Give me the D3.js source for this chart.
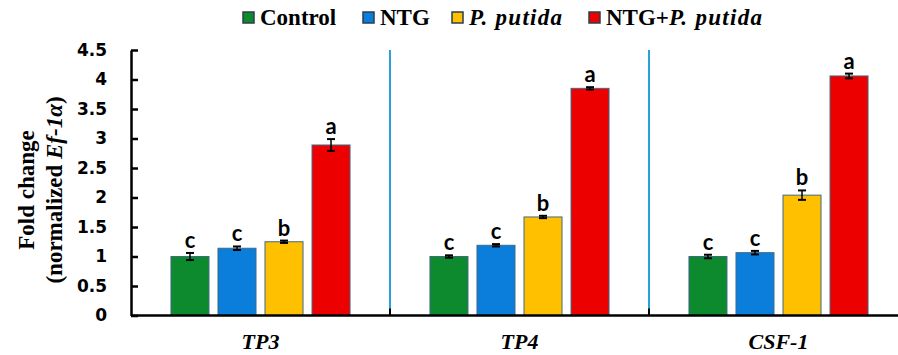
<!DOCTYPE html>
<html>
<head>
<meta charset="utf-8">
<script src="https://cdn.jsdelivr.net/npm/d3@7"></script>
<style>
body { margin: 0; background: #fff; }
svg { display: block; }
</style>
</head>
<body>
<script>
var genes = ["TP3", "TP4", "CSF-1"];
var groups = ["Control", "NTG", "P. putida", "NTG+P. putida"];
var means = {
	"TP3": [1.0, 1.14, 1.25, 2.89],
	"TP4": [1.0, 1.19, 1.67, 3.85],
	"CSF-1": [1.0, 1.065, 2.04, 4.06]
};
var errs = {
	"TP3": [0.06, 0.03, 0.02, 0.10],
	"TP4": [0.02, 0.02, 0.02, 0.02],
	"CSF-1": [0.03, 0.03, 0.08, 0.04]
};
var letters = {
	"TP3": ["c", "c", "b", "a"],
	"TP4": ["c", "c", "b", "a"],
	"CSF-1": ["c", "c", "b", "a"]
};
var yTicks = [0, 0.5, 1, 1.5, 2, 2.5, 3, 3.5, 4, 4.5];
var colors = ["#0E8A2E", "#0A7EDA", "#FFC000", "#EC0000"];

var W = 898, H = 355;
var left = 131, groupW = 259, y0 = 315.5, yTop = 50;

var svg = d3.select("body").append("svg")
	.attr("width", W).attr("height", H);

var x = d3.scaleBand().domain(genes).range([left, left + groupW * genes.length]);
var xIn = d3.scaleBand().domain(groups).range([0, groupW])
	.paddingInner(9 / 47).paddingOuter(0.85);
var y = d3.scaleLinear().domain([0, 4.5]).range([y0, yTop]);
var color = d3.scaleOrdinal().domain(groups).range(colors);

// separators between genes
svg.selectAll("line.sep")
	.data(genes.slice(1))
	.enter().append("line")
	.attr("class", "sep")
	.attr("x1", function(d) { return x(d); })
	.attr("x2", function(d) { return x(d); })
	.attr("y1", y(4.5))
	.attr("y2", y0)
	.attr("stroke", "#27A2DB")
	.attr("stroke-width", 2);

// bars
var rows = [];
genes.forEach(function(g) {
	groups.forEach(function(s, i) {
		rows.push({gene: g, group: s, v: means[g][i], e: errs[g][i], l: letters[g][i]});
	});
});

var bar = svg.append("g").selectAll("g")
	.data(rows).enter().append("g")
	.attr("transform", function(d) { return "translate(" + (x(d.gene) + xIn(d.group)) + ",0)"; });

bar.append("rect")
	.attr("x", 0)
	.attr("y", function(d) { return y(d.v); })
	.attr("width", xIn.bandwidth())
	.attr("height", function(d) { return y0 - y(d.v); })
	.attr("fill", function(d) { return color(d.group); })
	.attr("stroke", "#3F6A86")
	.attr("stroke-width", 1);

var bw = xIn.bandwidth();
bar.append("line")
	.attr("x1", bw / 2).attr("x2", bw / 2)
	.attr("y1", function(d) { return y(d.v + d.e); })
	.attr("y2", function(d) { return y(d.v - d.e); })
	.attr("stroke", "#000").attr("stroke-width", 1.5);
bar.selectAll("line.cap")
	.data(function(d) { return [d.v + d.e, d.v - d.e]; })
	.enter().append("line")
	.attr("class", "cap")
	.attr("x1", bw / 2 - 4).attr("x2", bw / 2 + 4)
	.attr("y1", function(v) { return y(v); })
	.attr("y2", function(v) { return y(v); })
	.attr("stroke", "#000").attr("stroke-width", 2);

bar.append("text")
	.attr("x", bw / 2)
	.attr("y", function(d) { return y(d.v + d.e) - 5; })
	.attr("text-anchor", "middle")
	.attr("font-family", "Lato, 'Open Sans', sans-serif")
	.attr("font-weight", "bold")
	.attr("font-size", "22px")
	.text(function(d) { return d.l; });

// y axis
var yAxis = d3.axisLeft(y).tickValues(yTicks).tickSize(-7).tickSizeOuter(0)
	.tickPadding(24)
	.tickFormat(function(d) { return d; });
var gy = svg.append("g").attr("transform", "translate(" + left + ",0)").call(yAxis);
gy.select(".domain").attr("stroke", "#000").attr("stroke-width", 2.5);
gy.selectAll(".tick line").attr("stroke", "#000").attr("stroke-width", 2.5);
gy.selectAll(".tick text")
	.attr("font-family", "'DejaVu Sans', sans-serif")
	.attr("font-weight", "bold")
	.attr("font-size", "17px")
	.attr("fill", "#000");

// x axis
svg.append("line")
	.attr("x1", left).attr("x2", W)
	.attr("y1", y0).attr("y2", y0)
	.attr("stroke", "#000").attr("stroke-width", 2.5);
svg.selectAll("line.xt")
	.data(genes.slice(1))
	.enter().append("line")
	.attr("class", "xt")
	.attr("x1", function(d) { return x(d); })
	.attr("x2", function(d) { return x(d); })
	.attr("y1", y0 - 7).attr("y2", y0)
	.attr("stroke", "#000").attr("stroke-width", 2);

svg.selectAll("text.cat")
	.data(genes).enter().append("text")
	.attr("class", "cat")
	.attr("x", function(d) { return x(d) + x.bandwidth() / 2; })
	.attr("y", 349)
	.attr("text-anchor", "middle")
	.attr("font-family", "'Liberation Serif', 'Times New Roman', serif")
	.attr("font-weight", "bold")
	.attr("font-style", "italic")
	.attr("font-size", "22px")
	.text(function(d) { return d; });

// y title
var yt = svg.append("text")
	.attr("transform", "translate(34,190) rotate(-90)")
	.attr("text-anchor", "middle")
	.attr("font-family", "'Liberation Serif', 'Times New Roman', serif")
	.attr("font-weight", "bold")
	.attr("font-size", "23px");
yt.append("tspan").attr("x", 0).attr("dy", 0).text("Fold change");
var t2 = yt.append("tspan").attr("x", 0).attr("dy", 28);
t2.append("tspan").text("(normalized ");
t2.append("tspan").attr("font-style", "italic").text("Ef-1\u03b1");
t2.append("tspan").text(")");

// legend
var legendX = [243, 363, 452, 589];
var leg = svg.append("g").selectAll("g")
	.data(groups).enter().append("g")
	.attr("transform", function(d, i) { return "translate(" + legendX[i] + ",0)"; });
leg.append("rect")
	.attr("x", 0).attr("y", 12)
	.attr("width", 11).attr("height", 11)
	.attr("fill", function(d) { return color(d); })
	.attr("stroke", "#2B3E50").attr("stroke-width", 1.5);
var lt = leg.append("text")
	.attr("x", 17).attr("y", 25)
	.attr("font-family", "'Liberation Serif', 'Times New Roman', serif")
	.attr("font-weight", "bold")
	.attr("font-size", "23px");
lt.each(function(d) {
	var t = d3.select(this);
	if (d === "P. putida") {
		t.append("tspan").attr("font-style", "italic").attr("letter-spacing", "1.3px").text("P. putida");
	} else if (d === "NTG+P. putida") {
		t.append("tspan").text("NTG+");
		t.append("tspan").attr("font-style", "italic").attr("letter-spacing", "1.3px").text("P. putida");
	} else {
		t.text(d);
	}
});
</script>
</body>
</html>
